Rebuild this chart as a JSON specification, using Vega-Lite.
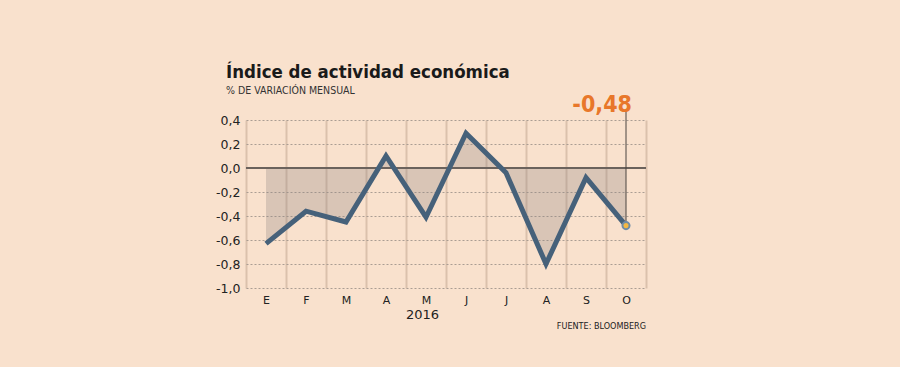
{
  "$schema": "https://vega.github.io/schema/vega-lite/v6.json",
  "width": 400,
  "height": 168,
  "autosize": {"type": "none"},
  "padding": {"left": 246, "top": 120, "right": 254, "bottom": 79},
  "background": "#f9e1cd",
  "title": {
    "text": "Índice de actividad económica",
    "subtitle": "% DE VARIACIÓN MENSUAL",
    "anchor": "start",
    "frame": "group",
    "dx": -20,
    "offset": -2,
    "font": "DejaVu Sans Condensed",
    "fontWeight": "bold",
    "fontSize": 18.5,
    "color": "#1a1a1a",
    "subtitleFont": "DejaVu Sans Condensed",
    "subtitleFontSize": 10.5,
    "subtitleColor": "#333333",
    "subtitlePadding": 4
  },
  "config": {
    "view": {"stroke": null},
    "axis": {"labelFont": "DejaVu Sans", "labelColor": "#222222", "domain": false, "ticks": false}
  },
  "data": {
    "values": [
      {"mes": "Ene", "v": -0.63},
      {"mes": "Feb", "v": -0.36},
      {"mes": "Mar", "v": -0.45},
      {"mes": "Abr", "v": 0.10},
      {"mes": "May", "v": -0.41},
      {"mes": "Jun", "v": 0.29},
      {"mes": "Jul", "v": -0.04},
      {"mes": "Ago", "v": -0.80},
      {"mes": "Sep", "v": -0.08},
      {"mes": "Oct", "v": -0.48}
    ]
  },
  "encoding": {
    "x": {
      "field": "mes",
      "type": "ordinal",
      "sort": null,
      "bandPosition": 0.5,
      "scale": {"type": "band", "paddingInner": 0, "paddingOuter": 0},
      "axis": {
        "title": "2016",
        "titleX": 176,
        "titleY": 30,
        "titleAlign": "center",
        "titleBaseline": "alphabetic",
        "titleFont": "DejaVu Sans",
        "titleFontWeight": "normal",
        "titleFontSize": 13,
        "titleColor": "#222222",
        "labelAngle": 0,
        "labelExpr": "substring(datum.label, 0, 1)",
        "labelFontSize": 11,
        "labelPadding": 6,
        "tickBand": "extent",
        "grid": true,
        "gridColor": "#dbc1ac",
        "gridWidth": 2
      }
    },
    "y": {
      "field": "v",
      "type": "quantitative",
      "scale": {"domain": [-1, 0.4], "nice": false, "zero": false},
      "axis": {
        "title": null,
        "values": [-1, -0.8, -0.6, -0.4, -0.2, 0, 0.2, 0.4],
        "labelExpr": "(datum.value < -0.001 ? '-' : '') + replace(format(abs(datum.value), '.1f'), '.', ',')",
        "labelFontSize": 12.5,
        "labelPadding": 6,
        "grid": true,
        "gridDash": [2, 2],
        "gridColor": "#aa9d93",
        "gridWidth": 1
      }
    }
  },
  "layer": [
    {
      "mark": {"type": "area", "color": "#8f8580", "opacity": 0.3},
      "encoding": {"y2": {"datum": 0}}
    },
    {
      "mark": {"type": "rule", "color": "#6b625c", "strokeWidth": 2},
      "encoding": {"x": null, "y": {"datum": 0}}
    },
    {
      "mark": {"type": "line", "color": "#46617a", "strokeWidth": 5, "strokeJoin": "miter"}
    },
    {
      "transform": [{"filter": "datum.mes == 'Oct'"}],
      "mark": {"type": "rule", "color": "#4a4440", "strokeWidth": 1},
      "encoding": {"y2": {"datum": 0.48}}
    },
    {
      "transform": [{"filter": "datum.mes == 'Oct'"}],
      "mark": {"type": "point", "filled": true, "fill": "#f4b842", "stroke": "#6f8ca6", "strokeWidth": 2, "size": 50, "opacity": 1}
    },
    {
      "transform": [{"filter": "datum.mes == 'Oct'"}],
      "mark": {"type": "text", "color": "#e8772a", "font": "DejaVu Sans Condensed", "fontWeight": "bold", "fontSize": 23, "align": "right", "baseline": "alphabetic", "dx": 6, "dy": -8},
      "encoding": {
        "y": {"datum": 0.4},
        "text": {"value": "-0,48"}
      }
    },
    {
      "transform": [{"filter": "datum.mes == 'Oct'"}],
      "mark": {"type": "text", "color": "#222222", "font": "DejaVu Sans Condensed", "fontSize": 9, "align": "right", "baseline": "middle", "dy": 38},
      "encoding": {
        "x": {"field": "mes", "type": "ordinal", "sort": null, "bandPosition": 1},
        "y": {"datum": -1},
        "text": {"value": "FUENTE: BLOOMBERG"}
      }
    }
  ]
}
